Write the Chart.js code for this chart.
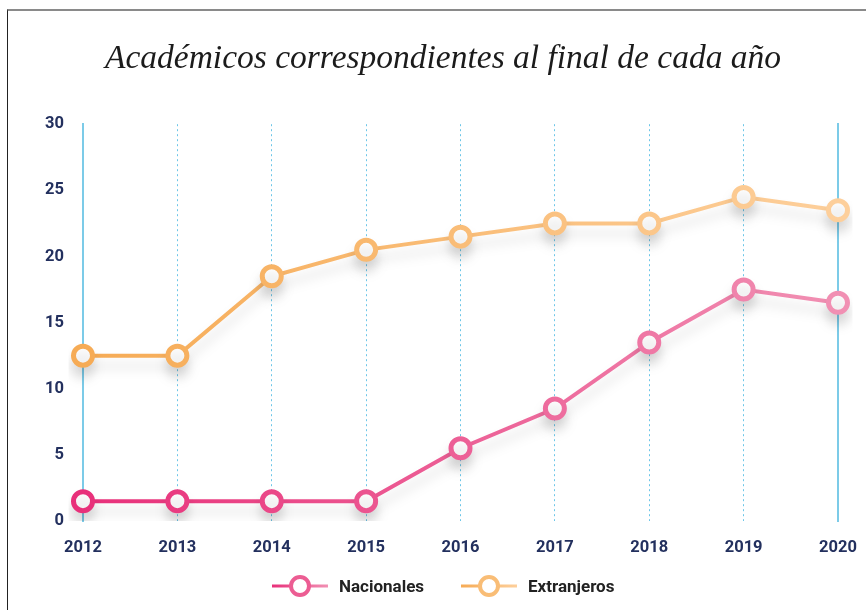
<!DOCTYPE html>
<html lang="es">
<head>
<meta charset="utf-8">
<title>Académicos correspondientes al final de cada año</title>
<script src="https://cdn.jsdelivr.net/npm/chart.js@4.4.1/dist/chart.umd.min.js"></script>
<style>
  html, body { margin: 0; padding: 0; background: #fff; overflow: hidden; }
  .marco {
    position: absolute; left: 7px; top: 9px; width: 859px; height: 601px;
    border-top: 2px solid #8a8a8a; border-left: 1px solid #222;
    box-sizing: border-box;
  }
  .lienzo { position: relative; width: 858px; height: 599px; }
  .leyenda-item {
    position: absolute; top: 573px; height: 26px;
    display: flex; align-items: center;
    font: bold 17px Roboto, sans-serif; color: #222;
  }
  .leyenda-item canvas { width: 56px; height: 26px; margin-right: 11px; }
</style>
</head>
<body>
<div class="marco">
  <div class="lienzo"><canvas id="grafico"></canvas></div>
</div>
<div id="leyenda"></div>
<script>
// Datos del gráfico
const anios = ['2012', '2013', '2014', '2015', '2016', '2017', '2018', '2019', '2020'];
const nacionales = [1.5, 1.5, 1.5, 1.5, 5.5, 8.5, 13.5, 17.5, 16.5];
const extranjeros = [12.5, 12.5, 18.5, 20.5, 21.5, 22.5, 22.5, 24.5, 23.5];
const ticksY = [0, 5, 10, 15, 20, 25, 30];
const series = ['Nacionales', 'Extranjeros'];

// Colores (inicio y final del degradado)
const rosa = ['#e8307a', '#f190b3'];
const naranja = ['#f6ab55', '#fdcf9b'];
const azulGrilla = '#6cc6e8';
const colorEjes = '#23305e';
const fuenteEjes = { family: 'Roboto, sans-serif', weight: 'bold', size: 16.5 };

// Degradado horizontal sobre el área del gráfico
function degradado(context, colores) {
  const chart = context.chart;
  const area = chart.chartArea;
  if (!area) return colores[0];
  const g = chart.ctx.createLinearGradient(area.left, 0, area.right, 0);
  g.addColorStop(0, colores[0]);
  g.addColorStop(1, colores[1]);
  return g;
}

// Icono de la leyenda: línea con círculo
function iconoLeyenda(colores, medio) {
  const c = document.createElement('canvas');
  c.width = 56;
  c.height = 26;
  const x = c.getContext('2d');
  const g = x.createLinearGradient(0, 0, 56, 0);
  g.addColorStop(0, colores[0]);
  g.addColorStop(1, colores[1]);
  x.strokeStyle = g;
  x.lineWidth = 3;
  x.beginPath();
  x.moveTo(0, 13);
  x.lineTo(56, 13);
  x.stroke();
  x.beginPath();
  x.arc(28, 13, 9, 0, Math.PI * 2);
  x.fillStyle = '#fff';
  x.fill();
  x.lineWidth = 4;
  x.strokeStyle = medio;
  x.stroke();
  return c;
}

// Leyenda en HTML debajo del gráfico
const leyenda = document.getElementById('leyenda');
[[rosa, '#ec5d93', 272], [naranja, '#f9bd76', 461]].forEach((item, i) => {
  const div = document.createElement('div');
  div.className = 'leyenda-item';
  div.style.left = item[2] + 'px';
  div.appendChild(iconoLeyenda(item[0], item[1]));
  const span = document.createElement('span');
  span.textContent = series[i];
  div.appendChild(span);
  leyenda.appendChild(div);
});

// Sombra suave bajo las líneas
const sombra = {
  id: 'sombra',
  beforeDatasetDraw(chart) {
    const ctx = chart.ctx;
    ctx.save();
    ctx.shadowColor = 'rgba(0, 0, 0, 0.13)';
    ctx.shadowBlur = 12;
    ctx.shadowOffsetY = 10;
  },
  afterDatasetDraw(chart) {
    chart.ctx.restore();
  }
};

const serie = (label, data, colores) => ({
  label: label,
  data: data,
  borderColor: c => degradado(c, colores),
  pointBorderColor: c => degradado(c, colores),
  pointBackgroundColor: '#fff',
  pointHoverBackgroundColor: '#fff',
  borderWidth: 4,
  pointRadius: 9.5,
  pointHoverRadius: 9.5,
  pointBorderWidth: 5,
  tension: 0
});

new Chart(document.getElementById('grafico'), {
  type: 'line',
  data: {
    labels: anios,
    datasets: [
      serie(series[0], nacionales, rosa),
      serie(series[1], extranjeros, naranja)
    ]
  },
  plugins: [sombra],
  options: {
    responsive: true,
    maintainAspectRatio: false,
    animation: false,
    layout: { padding: { left: 32, right: 20, top: 0, bottom: 39 } },
    plugins: {
      title: {
        display: true,
        text: 'Académicos correspondientes al final de cada año',
        color: '#1b1b1b',
        font: { family: '"Liberation Serif", "DejaVu Serif", serif', style: 'italic', weight: 'normal', size: 33.5 },
        padding: { top: 28, bottom: 45 }
      },
      legend: { display: false },
      tooltip: { enabled: false }
    },
    scales: {
      x: {
        offset: false,
        grid: { display: true, color: azulGrilla, lineWidth: 1, drawTicks: false },
        border: { display: false, dash: [2, 3] },
        ticks: {
          color: colorEjes,
          padding: 17,
          maxRotation: 0,
          font: fuenteEjes
        },
        afterFit: s => {
          s.height = 50;
          s.paddingLeft = 0;
          s.paddingRight = 0;
        }
      },
      y: {
        min: ticksY[0],
        max: ticksY[ticksY.length - 1],
        grid: { display: false, drawTicks: false },
        border: { display: true, color: '#7ccbe8', width: 2 },
        ticks: {
          stepSize: ticksY[1] - ticksY[0],
          color: colorEjes,
          padding: 19,
          font: fuenteEjes
        },
        afterFit: s => { s.width = 43; }
      },
      derecha: {
        position: 'right',
        grid: { display: false, drawTicks: false },
        border: { display: true, color: '#7ccbe8', width: 2 },
        ticks: { display: false },
        afterFit: s => { s.width = 8; }
      }
    }
  }
});
</script>
</body>
</html>
